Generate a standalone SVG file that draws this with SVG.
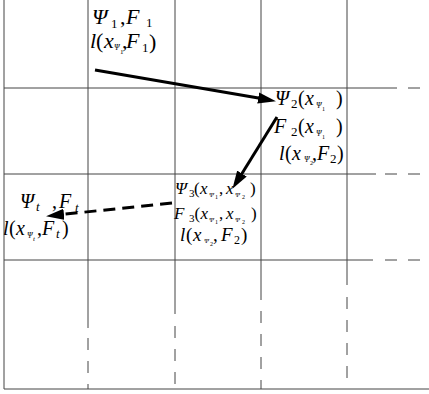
<svg xmlns="http://www.w3.org/2000/svg" width="429" height="394" viewBox="0 0 429 394">
<style>
.g{stroke:#444;stroke-width:1;fill:none}
.d{stroke-dasharray:12 11}
.t{font-family:"Liberation Serif","Times New Roman",serif;fill:#000}
.i{font-style:italic}
.a{stroke:#000;stroke-width:3;fill:none}
</style>
<defs>
<marker id="ah" markerUnits="userSpaceOnUse" markerWidth="18" markerHeight="12" refX="8" refY="5" orient="auto" viewBox="0 0 16 10">
<path d="M0,0 L16,5 L0,10 z" fill="#000"/>
</marker>
</defs>
<rect width="429" height="394" fill="#fff"/>
<g id="grid">
<line class="g" x1="4" y1="0" x2="4" y2="389"/>
<line class="g" x1="88" y1="0" x2="88" y2="328"/>
<line class="g d" x1="88" y1="338" x2="88" y2="389"/>
<line class="g" x1="175" y1="0" x2="175" y2="314"/>
<line class="g d" x1="175" y1="326" x2="175" y2="384"/>
<line class="g" x1="261" y1="0" x2="261" y2="300"/>
<line class="g d" x1="261" y1="311" x2="261" y2="389"/>
<line class="g" x1="347" y1="0" x2="347" y2="285"/>
<line class="g d" x1="347" y1="297" x2="347" y2="378"/>
<line class="g" x1="4" y1="88" x2="397" y2="88"/>
<line class="g" x1="408" y1="88" x2="420" y2="88"/>
<line class="g" x1="4" y1="174" x2="376" y2="174"/>
<line class="g d" x1="385" y1="174" x2="420" y2="174"/>
<line class="g" x1="4" y1="260" x2="373" y2="260"/>
<line class="g d" x1="385" y1="260" x2="420" y2="260"/>
<line class="g" x1="4" y1="389" x2="429" y2="389"/>
</g>
<g id="n1" class="t">
<text font-size="22"><tspan class="i" x="92" y="24">Ψ</tspan><tspan font-size="13" x="111" y="28">1</tspan><tspan x="120" y="24">,</tspan><tspan class="i" x="126" y="24">F</tspan><tspan font-size="13" x="146" y="27">1</tspan></text>
<text font-size="22"><tspan class="i" x="90" y="48">l</tspan><tspan x="96" y="48">(</tspan><tspan class="i" x="104" y="48">x</tspan><tspan class="i" font-size="8" x="114" y="50">Ψ</tspan><tspan font-size="7" x="120" y="54">1</tspan><tspan x="122" y="48">,</tspan><tspan class="i" x="126" y="48">F</tspan><tspan font-size="13" x="142" y="52">1</tspan><tspan x="149" y="49">)</tspan></text>
</g>
<g id="n2" class="t">
<text font-size="20"><tspan class="i" x="275" y="105">Ψ</tspan><tspan font-size="13" x="291" y="108">2</tspan><tspan x="298" y="105">(</tspan><tspan class="i" x="305" y="105">x</tspan><tspan class="i" font-size="8" x="316" y="108">Ψ</tspan><tspan font-size="6" x="322" y="111">1</tspan><tspan x="336" y="105">)</tspan></text>
<text font-size="20"><tspan class="i" x="274" y="133">F</tspan><tspan font-size="13" x="291" y="136">2</tspan><tspan x="298" y="133">(</tspan><tspan class="i" x="305" y="133">x</tspan><tspan class="i" font-size="8" x="316" y="136">Ψ</tspan><tspan font-size="6" x="322" y="139">1</tspan><tspan x="336" y="133">)</tspan></text>
<text font-size="20"><tspan class="i" x="279" y="160">l</tspan><tspan x="285" y="160">(</tspan><tspan class="i" x="292" y="160">x</tspan><tspan class="i" font-size="8" x="304" y="162">Ψ</tspan><tspan font-size="6" x="310" y="165">2</tspan><tspan x="312" y="160">,</tspan><tspan class="i" x="317" y="160">F</tspan><tspan font-size="13" x="330" y="163">2</tspan><tspan x="337" y="160">)</tspan></text>
</g>
<g id="n3" class="t">
<text font-size="17"><tspan class="i" x="175" y="194">Ψ</tspan><tspan font-size="11" x="189" y="197">3</tspan><tspan x="194" y="194">(</tspan><tspan class="i" x="200" y="194">x</tspan><tspan class="i" font-size="7" x="209" y="197">Ψ</tspan><tspan font-size="6" x="215" y="199">1</tspan><tspan x="219" y="194">,</tspan><tspan class="i" x="226" y="194">x</tspan><tspan class="i" font-size="7" x="235" y="197">Ψ</tspan><tspan font-size="6" x="242" y="199">2</tspan><tspan x="250" y="194">)</tspan></text>
<text font-size="17"><tspan class="i" x="174" y="219">F</tspan><tspan font-size="11" x="189" y="222">3</tspan><tspan x="194.5" y="219">(</tspan><tspan class="i" x="200.5" y="219">x</tspan><tspan class="i" font-size="7" x="209" y="222">Ψ</tspan><tspan font-size="6" x="215" y="224">1</tspan><tspan x="219" y="219">,</tspan><tspan class="i" x="226" y="219">x</tspan><tspan class="i" font-size="7" x="235" y="222">Ψ</tspan><tspan font-size="6" x="242" y="224">2</tspan><tspan x="251" y="219">)</tspan></text>
<text font-size="19"><tspan class="i" x="180" y="241">l</tspan><tspan x="186" y="241">(</tspan><tspan class="i" x="193" y="241">x</tspan><tspan class="i" font-size="7" x="204" y="243">Ψ</tspan><tspan font-size="6" x="210" y="246">2</tspan><tspan x="213" y="241">,</tspan><tspan class="i" x="221" y="241">F</tspan><tspan font-size="12" x="234" y="244">2</tspan><tspan x="241" y="241">)</tspan></text>
</g>
<g id="n4" class="t">
<text font-size="20"><tspan class="i" x="20" y="208">Ψ</tspan><tspan class="i" font-size="13" x="36" y="211">t</tspan><tspan x="52" y="208">,</tspan><tspan class="i" x="59" y="208">F</tspan><tspan class="i" font-size="13" x="75" y="212">t</tspan></text>
<text font-size="20"><tspan class="i" x="3" y="235">l</tspan><tspan x="9" y="235">(</tspan><tspan class="i" x="16" y="235">x</tspan><tspan class="i" font-size="8" x="27" y="238">Ψ</tspan><tspan class="i" font-size="7" x="33" y="241">t</tspan><tspan x="37" y="235">,</tspan><tspan class="i" x="42" y="235">F</tspan><tspan class="i" font-size="13" x="56" y="238">t</tspan><tspan x="62" y="235">)</tspan></text>
</g>
<g id="connectors">
<line class="a" x1="95" y1="70" x2="267.1" y2="99.6" marker-end="url(#ah)"/>
<line class="a" x1="277" y1="117" x2="237.2" y2="181.2" marker-end="url(#ah)"/>
<line class="a" x1="172" y1="203" x2="55" y2="215.2" stroke-dasharray="12 7" marker-end="url(#ah)"/>
</g>
</svg>
